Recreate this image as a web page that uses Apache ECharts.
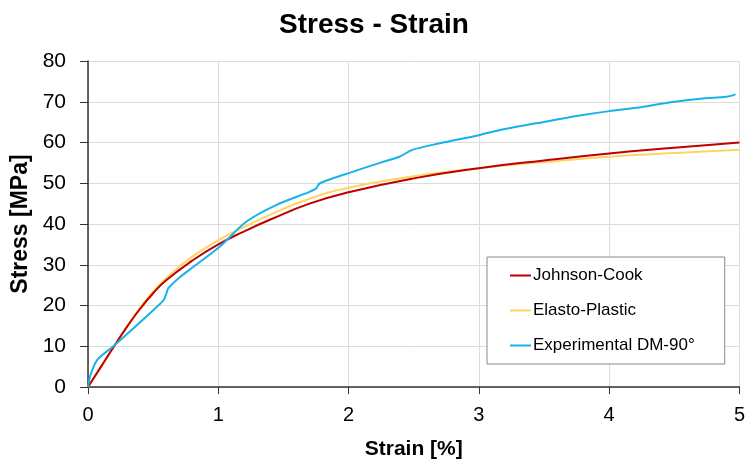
<!DOCTYPE html>
<html>
<head>
<meta charset="utf-8">
<script src="https://cdn.jsdelivr.net/npm/echarts@6/dist/echarts.min.js"></script>
<style>
    html, body { margin: 0; padding: 0; background: #fff; }
    #chart { width: 748px; height: 468px; }
</style>
</head>
<body>
<div id="chart"></div>
<script>
// Johnson-Cook model
var jcStrain = [0, 0.1, 0.2, 0.3, 0.4, 0.5, 0.6, 0.8, 1.0, 1.2, 1.4, 1.7, 2.0, 2.5, 3.0, 3.5, 4.0, 4.5, 5.0]
var jcStress = [0, 5.0, 10.0, 14.8, 19.2, 23.0, 26.2, 31.0, 35.0, 38.2, 41.1, 45.0, 47.8, 51.2, 53.7, 55.6, 57.3, 58.7, 60.0]

// Elasto-plastic model
var epStrain = [0, 0.1, 0.2, 0.3, 0.4, 0.5, 0.6, 0.8, 1.0, 1.2, 1.4, 1.7, 2.0, 2.5, 3.0, 3.5, 4.0, 4.5, 5.0]
var epStress = [0, 4.9, 9.8, 14.8, 19.5, 23.4, 26.7, 32.0, 36.0, 39.3, 42.3, 46.2, 48.9, 51.7, 53.7, 55.2, 56.5, 57.4, 58.2]

// Experimental DM-90°
var expStrain = [0, 0.02, 0.07, 0.19, 0.3, 0.475, 0.58, 0.6, 0.616, 0.7, 0.81, 1.01, 1.217, 1.447, 1.70, 1.75, 1.78, 2.03, 2.24, 2.39, 2.49, 2.7, 3.0, 3.18, 3.44, 3.75, 4.0, 4.21, 4.46, 4.72, 4.9, 4.97]
var expStress = [0, 3, 6.6, 9.9, 13.0, 18.1, 21.3, 22.8, 24.2, 26.8, 29.5, 34.4, 40.6, 44.7, 47.9, 48.7, 50, 52.8, 55.0, 56.5, 58.2, 59.8, 61.8, 63.2, 64.7, 66.5, 67.7, 68.5, 69.8, 70.8, 71.2, 71.8]

var seriesNames = ['Johnson-Cook', 'Elasto-Plastic', 'Experimental DM-90°']
var xTicks = [0, 1, 2, 3, 4, 5]
var yTicks = [0, 10, 20, 30, 40, 50, 60, 70, 80]

function pairs(xs, ys) {
    var out = []
    for (var i = 0; i < xs.length; i++) out.push([xs[i], ys[i]])
    return out
}

var font = 'Liberation Sans, Arial, sans-serif'
var chart = echarts.init(document.getElementById('chart'))

chart.setOption({
    animation: false,
    textStyle: { fontFamily: font },
    title: {
        text: 'Stress - Strain',
        left: 'center',
        top: 6,
        textStyle: { fontSize: 28, fontWeight: 'bold', color: '#000', fontFamily: font }
    },
    legend: {
        orient: 'vertical',
        left: 487,
        top: 257,
        padding: [10, 30, 10, 23],
        itemGap: 18,
        itemWidth: 21,
        itemHeight: 2,
        icon: 'rect',
        backgroundColor: '#fff',
        borderColor: '#888',
        borderWidth: 1,
        textStyle: { fontSize: 17, color: '#000', fontFamily: font, padding: [0, 0, 0, -3] },
        data: seriesNames
    },
    grid: { left: 88, right: 8, top: 61, bottom: 81 },
    xAxis: {
        type: 'value',
        min: xTicks[0],
        max: xTicks[xTicks.length - 1],
        interval: 1,
        name: 'Strain [%]',
        nameLocation: 'middle',
        nameGap: 52,
        nameTextStyle: { fontSize: 21, fontWeight: 'bold', color: '#000' },
        axisLine: { lineStyle: { color: '#333', width: 1.5 } },
        axisTick: { show: true, length: 7, lineStyle: { color: '#333' } },
        axisLabel: { fontSize: 20, color: '#000', margin: 18 },
        splitLine: { show: true, lineStyle: { color: '#dcdcdc' } }
    },
    yAxis: {
        type: 'value',
        min: yTicks[0],
        max: yTicks[yTicks.length - 1],
        interval: 10,
        name: 'Stress [MPa]',
        nameLocation: 'middle',
        nameGap: 54,
        nameTextStyle: { fontSize: 23, fontWeight: 'bold', color: '#000' },
        axisLine: { show: true, onZero: false, lineStyle: { color: '#333', width: 1.5 } },
        axisTick: { show: true, length: 8, lineStyle: { color: '#333' } },
        axisLabel: { fontSize: 21, color: '#000', margin: 22 },
        splitLine: { show: true, lineStyle: { color: '#dcdcdc' } }
    },
    series: [{
        name: seriesNames[0],
        type: 'line',
        smooth: true,
        showSymbol: false,
        z: 3,
        lineStyle: { color: '#c00000', width: 2 },
        itemStyle: { color: '#c00000' },
        data: pairs(jcStrain, jcStress)
    }, {
        name: seriesNames[1],
        type: 'line',
        smooth: true,
        showSymbol: false,
        z: 2,
        lineStyle: { color: '#ffd460', width: 2 },
        itemStyle: { color: '#ffd460' },
        data: pairs(epStrain, epStress)
    }, {
        name: seriesNames[2],
        type: 'line',
        smooth: 0.3,
        showSymbol: false,
        z: 4,
        lineStyle: { color: '#17b2ea', width: 2 },
        itemStyle: { color: '#17b2ea' },
        data: pairs(expStrain, expStress)
    }]
})
</script>
</body>
</html>
